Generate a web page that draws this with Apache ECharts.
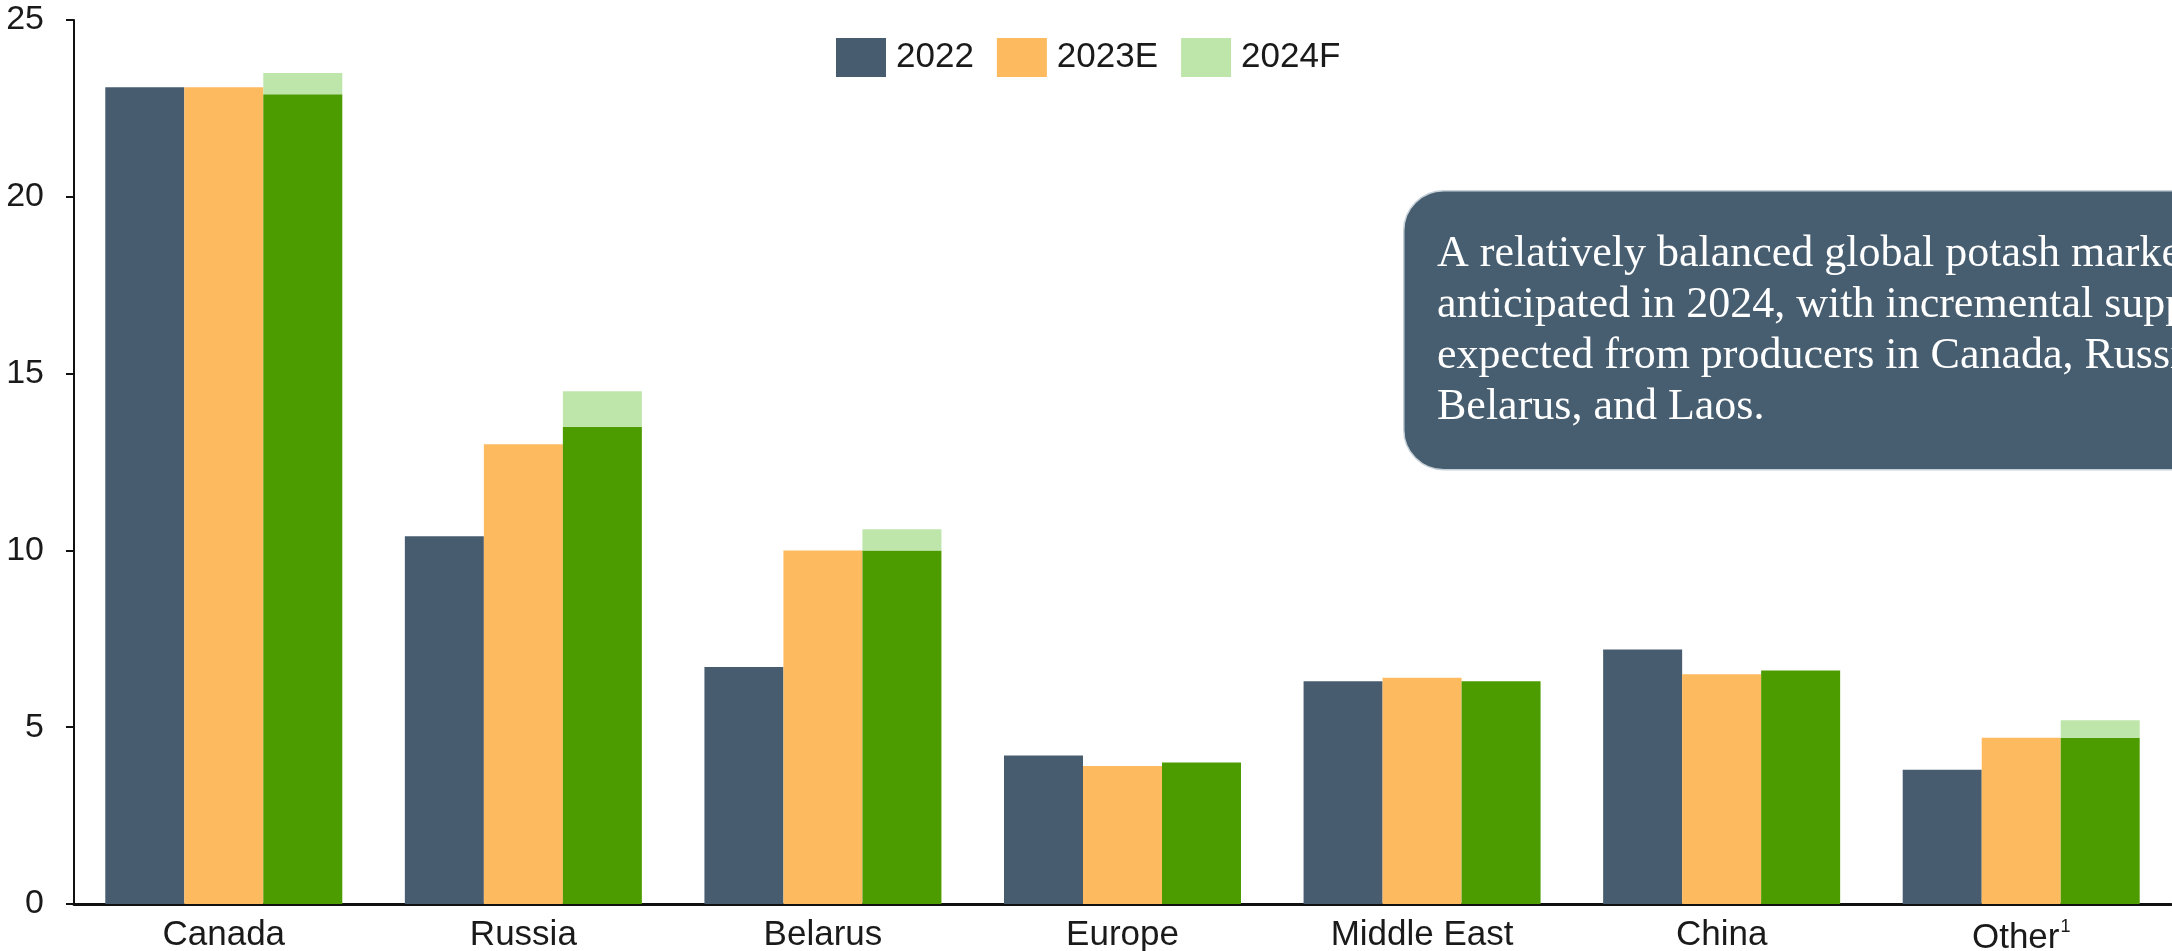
<!DOCTYPE html>
<html>
<head>
<meta charset="utf-8">
<title>Potash supply</title>
<script src="https://cdn.jsdelivr.net/npm/echarts/dist/echarts.min.js"></script>
<style>
  html, body { margin: 0; padding: 0; background: #fff; }
  #main { width: 2172px; height: 951px; }
</style>
</head>
<body>
<div id="main"></div>
<script>
  // categories + values
  let categories = ['Canada', 'Russia', 'Belarus', 'Europe', 'Middle East', 'China', 'Other'];
  let v2022 = [23.1, 10.4, 6.7, 4.2, 6.3, 7.2, 3.8];
  let v2023E = [23.1, 13.0, 10.0, 3.9, 6.4, 6.5, 4.7];
  let v2024Low = [22.9, 13.5, 10.0, 4.0, 6.3, 6.6, 4.7];
  let v2024High = [23.5, 14.5, 10.6, 4.0, 6.3, 6.6, 5.2];
  let yTicks = [0, 5, 10, 15, 20, 25];

  let boxLines = [
    'A relatively balanced global potash market is',
    'anticipated in 2024, with incremental supply',
    'expected from producers in Canada, Russia,',
    'Belarus, and Laos.'
  ];

  // upper part of the 2024F range sits on top of the low value
  let v2024Range = v2024High.map(function (h, i) {
    return Math.round((h - v2024Low[i]) * 100) / 100;
  });

  let myChart = echarts.init(document.getElementById('main'));

  let labelFont = {
    fontFamily: '"Liberation Sans", Arial, sans-serif',
    color: '#1a1a1a'
  };

  let option = {
    animation: false,
    backgroundColor: '#fff',
    legend: {
      data: ['2022', '2023E', '2024F'],
      left: 831,
      top: 33,
      itemWidth: 50,
      itemHeight: 39,
      itemGap: 23,
      icon: 'rect',
      textStyle: {
        fontFamily: labelFont.fontFamily,
        color: labelFont.color,
        fontSize: 35,
        padding: [0, 0, 0, 5]
      }
    },
    grid: {
      left: 74,
      right: 1,
      top: 20,
      bottom: 47,
      outerBoundsMode: 'none'
    },
    xAxis: {
      type: 'category',
      data: categories,
      axisLine: { show: true, lineStyle: { color: '#111', width: 3 } },
      axisTick: { show: false },
      axisLabel: {
        margin: 14,
        fontSize: 35,
        fontFamily: labelFont.fontFamily,
        color: labelFont.color,
        formatter: function (v) {
          return v === 'Other' ? 'Other{sup|1}' : v;
        },
        rich: {
          sup: {
            fontSize: 18,
            fontFamily: labelFont.fontFamily,
            color: labelFont.color,
            verticalAlign: 'top',
            padding: [0, 0, 22, 1]
          }
        }
      }
    },
    yAxis: {
      type: 'value',
      min: yTicks[0],
      max: yTicks[yTicks.length - 1],
      interval: 5,
      splitLine: { show: false },
      axisLine: { show: true, lineStyle: { color: '#111', width: 2 } },
      axisTick: { show: true, length: 8, lineStyle: { color: '#111', width: 2 } },
      axisLabel: {
        margin: 30,
        fontSize: 34,
        fontFamily: labelFont.fontFamily,
        color: labelFont.color
      }
    },
    series: [
      {
        name: '2022',
        type: 'bar',
        barWidth: 79,
        barGap: '0%',
        itemStyle: { color: '#475c6f' },
        data: v2022
      },
      {
        name: '2023E',
        type: 'bar',
        barWidth: 79,
        barGap: '0%',
        itemStyle: { color: '#fdba5f' },
        data: v2023E
      },
      {
        name: '2024F low',
        type: 'bar',
        stack: 'f2024',
        barWidth: 79,
        barGap: '0%',
        itemStyle: { color: '#4c9c00' },
        data: v2024Low
      },
      {
        name: '2024F',
        type: 'bar',
        stack: 'f2024',
        barWidth: 79,
        barGap: '0%',
        itemStyle: { color: '#bee6aa' },
        data: v2024Range
      }
    ],
    graphic: [
      {
        type: 'rect',
        left: 1403,
        top: 190,
        z: 10,
        shape: { width: 900, height: 279, r: 40 },
        style: { fill: '#475e71', stroke: '#c5d0d7', lineWidth: 1.5 }
      },
      {
        type: 'text',
        left: 1437,
        top: 229,
        z: 11,
        style: {
          text: boxLines.join('\n'),
          fill: '#fff',
          fontFamily: '"Liberation Serif", "Times New Roman", serif',
          fontSize: 44,
          lineHeight: 51
        }
      }
    ]
  };

  myChart.setOption(option);
</script>
</body>
</html>
